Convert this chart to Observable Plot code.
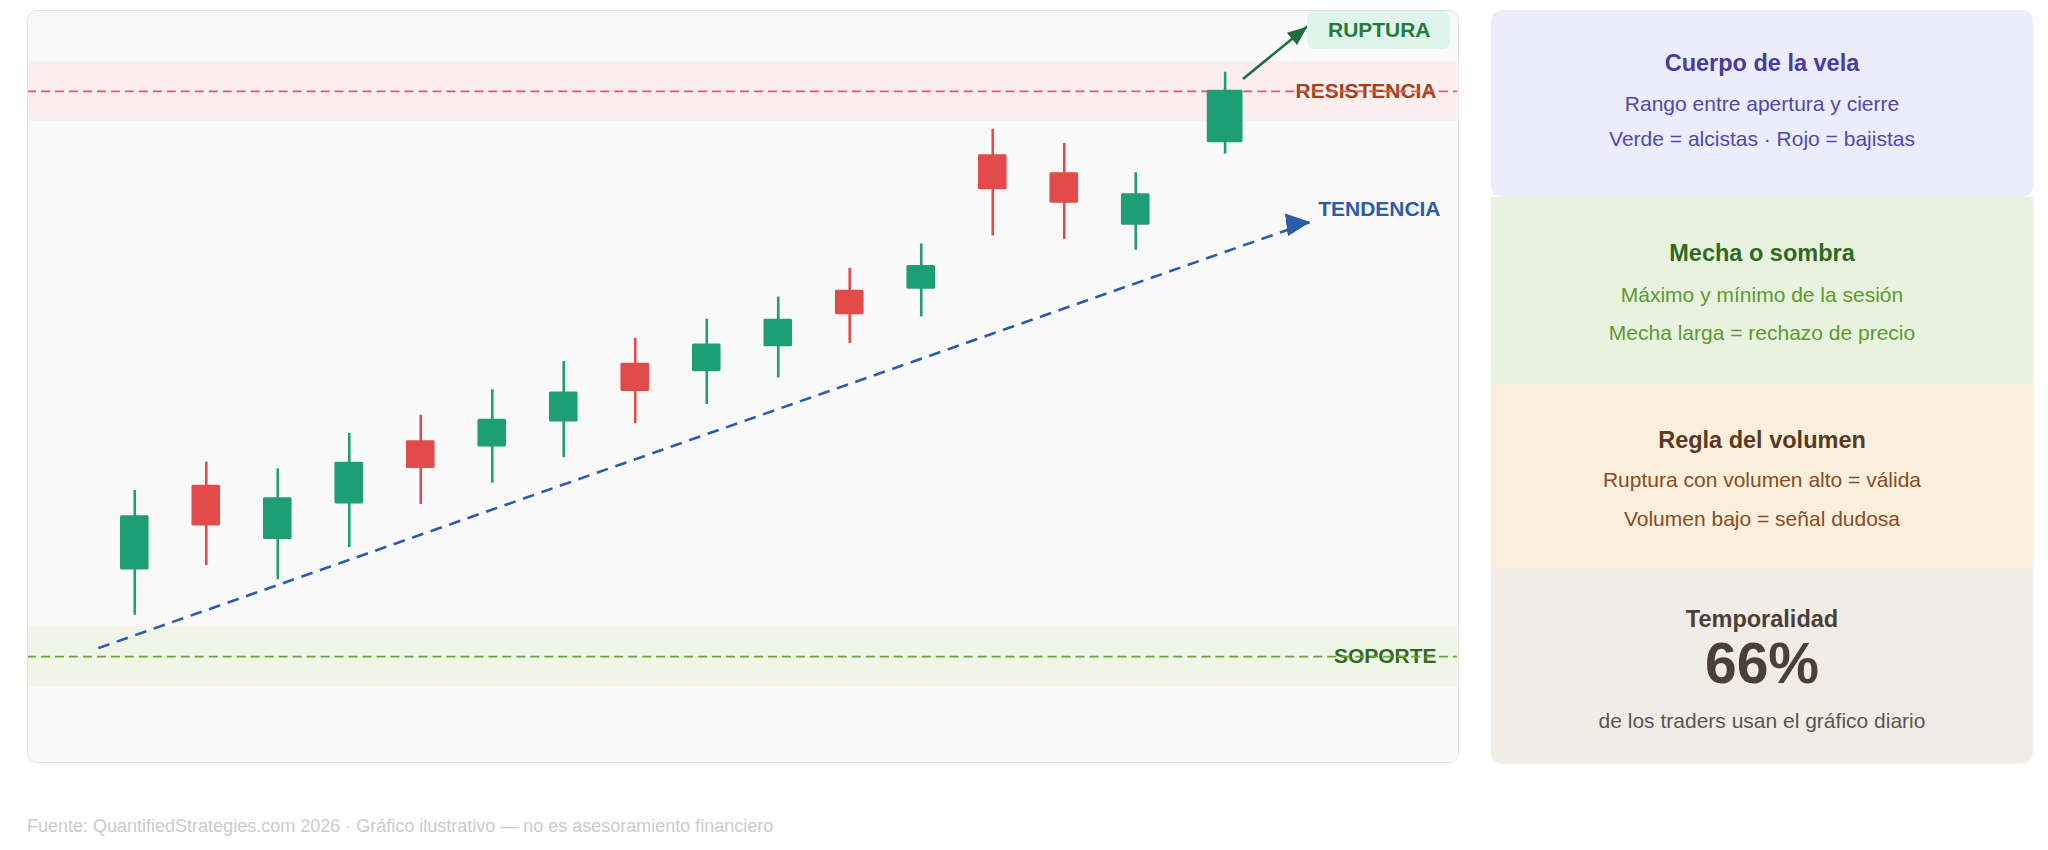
<!DOCTYPE html>
<html lang="es">
<head>
<meta charset="utf-8">
<script src="https://cdn.jsdelivr.net/npm/d3@7"></script>
<script src="https://cdn.jsdelivr.net/npm/@observablehq/plot@0.6"></script>
<style>
html,body{margin:0;padding:0;background:#fff;}
body{width:2048px;height:850px;position:relative;overflow:hidden;font-family:"Liberation Sans",Arial,Helvetica,sans-serif;}
#chart{position:absolute;left:27px;top:10px;width:1432px;height:753px;box-sizing:border-box;border:1px solid #e3e3e3;border-radius:10px;background:#f9f9f9;overflow:hidden;}
#chart svg{position:absolute;left:-1px;top:-1px;}
#side{position:absolute;left:1491px;top:10px;width:542px;height:753px;border-radius:10px;overflow:hidden;box-shadow:0 1px 2px rgba(0,0,0,0.06);}
.card{position:absolute;left:0;width:100%;}
.card div{position:absolute;left:0;width:100%;text-align:center;white-space:nowrap;}
.t{font-weight:bold;font-size:23.5px;line-height:23.5px;height:23.5px;}
.l{font-size:21px;line-height:21px;height:21px;}
.big{font-weight:bold;font-size:57px;line-height:57px;height:57px;}
#foot{position:absolute;left:27px;top:817px;font-size:18px;line-height:18px;color:#cbcbcb;white-space:nowrap;}
</style>
</head>
<body>
<div id="chart"></div>
<div id="side"></div>
<div id="foot"></div>
<script>
// ---- Chart data ----
const session = [0, 1, 2, 3, 4, 5, 6, 7, 8, 9, 10, 11, 12, 13, 14, 15.25];
const open  = [115.3, 130.3, 120.7, 127.0, 138.2, 137.1, 141.5, 151.9, 150.4, 154.8, 164.8, 165.0, 188.8, 185.6, 176.3, 190.9];
const close = [124.9, 123.1, 128.1, 134.4, 133.3, 142.0, 146.8, 146.9, 155.3, 159.7, 160.5, 169.2, 182.6, 180.2, 181.9, 200.2];
const high  = [129.4, 134.4, 133.2, 139.5, 142.7, 147.2, 152.2, 156.3, 159.7, 163.6, 168.7, 173.0, 193.3, 190.8, 185.6, 203.4];
const low   = [107.3, 116.1, 113.6, 119.3, 126.9, 130.7, 135.2, 141.2, 144.6, 149.3, 155.4, 160.1, 174.4, 173.8, 171.9, 188.9];

const resistance = 200;
const support = 100;
const zoneHalfWidth = 5.3;

const trendSession = [-0.51, 16.44];
const trendPrice   = [101.5, 176.9];
const breakoutSession = [15.50, 16.40];
const breakoutPrice   = [202.2, 211.5];

const levelLabels = ["RESISTENCIA", "SOPORTE"];
const trendLabel = "TENDENCIA";
const breakoutLabel = "RUPTURA";

// ---- Sidebar data ----
const cardTitles = ["Cuerpo de la vela", "Mecha o sombra", "Regla del volumen", "Temporalidad"];
const cardLines = [
  ["Rango entre apertura y cierre", "Verde = alcistas · Rojo = bajistas"],
  ["Máximo y mínimo de la sesión", "Mecha larga = rechazo de precio"],
  ["Ruptura con volumen alto = válida", "Volumen bajo = señal dudosa"],
  ["de los traders usan el gráfico diario"]
];
const dailyChartShare = 66;
const footnote = "Fuente: QuantifiedStrategies.com 2026 · Gráfico ilustrativo — no es asesoramiento financiero";

// ---- Build ----
const UP = "#1e9e74", DOWN = "#e34b4b";
const candles = session.map((s, i) => ({session: s, open: open[i], close: close[i], high: high[i], low: low[i]}));
const regular = candles.slice(0, -1);
const breakoutCandle = candles.slice(-1);
const colorOf = d => (d.close >= d.open ? UP : DOWN);
const trend = [{x1: trendSession[0], y1: trendPrice[0], x2: trendSession[1], y2: trendPrice[1]}];
const breakArrow = [{x1: breakoutSession[0], y1: breakoutPrice[0], x2: breakoutSession[1], y2: breakoutPrice[1]}];
const trendEnd = [{x: trendSession[1], y: trendPrice[1]}];
const breakEnd = [{x: breakoutSession[1], y: breakoutPrice[1]}];

const arrowHead = (len, wid, orient) => (color) => {
  const m = d3.create("svg:marker")
    .attr("viewBox", `0 0 ${len} ${wid}`)
    .attr("markerUnits", "userSpaceOnUse")
    .attr("markerWidth", len)
    .attr("markerHeight", wid)
    .attr("refX", len)
    .attr("refY", wid / 2)
    .attr("orient", orient);
  m.append("path")
    .attr("d", `M0,0L${len},${wid / 2}L0,${wid}Z`)
    .attr("fill", color)
    .attr("stroke", "none")
    .attr("stroke-dasharray", "none");
  return m.node();
};

const chart = Plot.plot({
  width: 1432,
  height: 753,
  marginTop: 0, marginRight: 0, marginBottom: 0, marginLeft: 0,
  x: {domain: [0, 15], range: [107.4, 1181.4], axis: null},
  y: {domain: [support, resistance], range: [647, 81], axis: null},
  style: {background: "transparent", fontFamily: "'Liberation Sans', Arial, sans-serif", overflow: "visible"},
  marks: [
    Plot.rect([resistance], {y1: d => d - zoneHalfWidth, y2: d => d + zoneHalfWidth, fill: "#fbeeee"}),
    Plot.rect([support], {y1: d => d - zoneHalfWidth, y2: d => d + zoneHalfWidth, fill: "#f0f5e7"}),
    Plot.text([resistance], {y: d => d, text: () => levelLabels[0], frameAnchor: "right", textAnchor: "end", dx: -21,
      fill: "#a1421d", fontSize: 21, fontWeight: "bold"}),
    Plot.text([support], {y: d => d, text: () => levelLabels[1], frameAnchor: "right", textAnchor: "end", dx: -21,
      fill: "#2e6b21", fontSize: 21, fontWeight: "bold"}),
    Plot.ruleY([resistance], {stroke: "#e05a5a", strokeWidth: 1.8, strokeDasharray: "9,5"}),
    Plot.ruleY([support], {stroke: "#6aa435", strokeWidth: 1.8, strokeDasharray: "9,5"}),
    Plot.link(trend, {x1: "x1", y1: "y1", x2: "x2", y2: "y2", stroke: "#2a5ca8", strokeWidth: 2.6,
      strokeDasharray: "11.8,7.8", markerEnd: arrowHead(24, 23, -7)}),
    Plot.ruleX(candles, {x: "session", y1: "low", y2: "high", stroke: colorOf, strokeWidth: 2.6}),
    Plot.rect(regular, {x1: d => d.session - 0.2, x2: d => d.session + 0.2, y1: "open", y2: "close", fill: colorOf, rx: 1.5}),
    Plot.rect(breakoutCandle, {x1: d => d.session - 0.25, x2: d => d.session + 0.25, y1: "open", y2: "close", fill: colorOf, rx: 1.5}),
    Plot.link(breakArrow, {x1: "x1", y1: "y1", x2: "x2", y2: "y2", stroke: "#1f6e3b", strokeWidth: 2.6,
      markerEnd: arrowHead(20, 16, "auto")}),
    Plot.rect([breakoutLabel], {fill: "#dff4ea", rx: 7, insetLeft: 1282, insetRight: 7, insetTop: 1, insetBottom: 714}),
    Plot.text(breakEnd, {x: "x", y: "y", text: () => breakoutLabel, textAnchor: "middle", dx: 72, dy: 4,
      fill: "#237a3b", fontSize: 21, fontWeight: "bold"}),
    Plot.text(trendEnd, {x: "x", y: "y", text: () => trendLabel, textAnchor: "start", dx: 8, dy: -12.5,
      fill: "#2a5ca8", fontSize: 21, fontWeight: "bold"})
  ]
});
document.getElementById("chart").appendChild(chart);

// ---- Sidebar ----
const cardStyle = [
  {top: 0, h: 187, bg: "#ececfc", tc: "#463c9e", lc: "#4b4aae", rows: [53.3, 93, 128.7], radius: "10px"},
  {top: 187, h: 186, bg: "#e9f2df", tc: "#2d6a1f", lc: "#5b9a2d", rows: [56.3, 96.8, 135], radius: "0"},
  {top: 373, h: 186, bg: "#f9efdc", tc: "#5a3a1f", lc: "#8a4b1e", rows: [57, 96.5, 135.7], radius: "0"},
  {top: 559, h: 194, bg: "#f1ede6", tc: "#4a4038", lc: "#5a5550", rows: [50.3, 94.3, 151], radius: "0"}
];
const side = d3.select("#side");
cardTitles.forEach((title, i) => {
  const s = cardStyle[i];
  const card = side.append("div").attr("class", "card")
    .style("top", s.top + "px").style("height", s.h + "px")
    .style("background", s.bg).style("border-radius", s.radius);
  card.append("div").attr("class", "t").style("color", s.tc)
    .style("top", (s.rows[0] - 11.5) + "px").text(title);
  if (i === 3) {
    card.append("div").attr("class", "big").style("color", s.tc)
      .style("top", (s.rows[1] - 28) + "px").text(dailyChartShare + "%");
    card.append("div").attr("class", "l").style("color", s.lc)
      .style("top", (s.rows[2] - 10.3) + "px").text(cardLines[i][0]);
  } else {
    cardLines[i].forEach((line, j) => {
      card.append("div").attr("class", "l").style("color", s.lc)
        .style("top", (s.rows[j + 1] - 10.3) + "px").text(line);
    });
  }
});
// card 1 drawn on top so its rounded corners show
side.select(".card").raise();

document.getElementById("foot").textContent = footnote;
</script>
</body>
</html>
